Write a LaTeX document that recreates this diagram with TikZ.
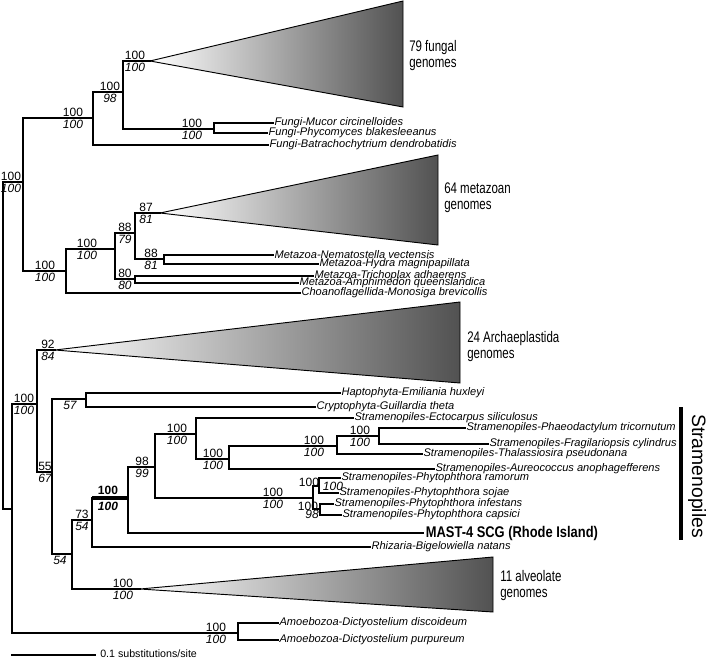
\documentclass[tikz,border=0pt]{standalone}
\usepackage{graphicx}
\usepackage{fontspec}
\setmainfont{Liberation Sans}
\newfontfamily\condf[FakeStretch=0.75]{Liberation Sans}
\newcommand\bsv[5]{%
  \node[suptop] (#1t) at (#2,#3) {#4};
  \node[supbot] (#1b) at (#2,#3) {\itshape #5};}
\begin{document}
\begin{tikzpicture}[x=0.75pt,y=-0.75pt,
  br/.style={line width=0.8pt, line cap=rect},
  thickbr/.style={line width=3.3pt},
  tip/.style={anchor=west, inner xsep=1pt, inner ysep=0pt, font=\fontsize{8.3pt}{9.6pt}\selectfont\itshape},
  suptop/.style={anchor=south, inner sep=0pt, yshift=1.1pt, font=\fontsize{9pt}{10pt}\selectfont},
  supbot/.style={anchor=north, inner sep=0pt, yshift=-1.4pt, font=\fontsize{9pt}{10pt}\selectfont},
  supc/.style={inner sep=0pt, font=\fontsize{9pt}{10pt}\selectfont},
  clade/.style={anchor=west, align=left, inner sep=0pt, font=\condf\fontsize{11.5pt}{12pt}\selectfont},
  tri/.style={left color=white, right color=black!68, draw=black, line width=0.7pt, line join=miter}
]
\useasboundingbox (0,0) rectangle (706,659);

% internal nodes
\coordinate (r) at (3,182);
\coordinate (opi) at (23,182);
\coordinate (fungi) at (93,118);
\coordinate (f1) at (123,92);
\coordinate (fcl) at (150,61);
\coordinate (muc) at (214,129);
\coordinate (metaz) at (66,271);
\coordinate (hol) at (115,249);
\coordinate (m1) at (135,233);
\coordinate (mcl) at (160,213);
\coordinate (m3) at (164,259);
\coordinate (m2) at (135,279);
\coordinate (n12) at (12,509);
\coordinate (amoe) at (238,633);
\coordinate (n37) at (37,404);
\coordinate (arch) at (55,350);
\coordinate (n52) at (52,472);
\coordinate (hc) at (86,399);
\coordinate (n72) at (72,554);
\coordinate (n92) at (92,520);
\coordinate (alv) at (140,589);
\coordinate (n128) at (128,498);
\coordinate (n155) at (155,467);
\coordinate (n196) at (196,434);
\coordinate (n229) at (229,459);
\coordinate (n337) at (337,446);
\coordinate (n379) at (379,436);
\coordinate (phy) at (313,498);
\coordinate (pa) at (319,486);
\coordinate (pb) at (320,509);

% triangles (collapsed clades)
\shadedraw[tri] (fcl) -- (403,1) -- (403,107) -- cycle;
\shadedraw[tri] (mcl) -- (438,155) -- (438,245) -- cycle;
\shadedraw[tri] (arch) -- (460,302) -- (460,383) -- cycle;
\shadedraw[tri] (alv) -- (493,557) -- (493,612) -- cycle;

\node[clade] (lfun) at (409,56) {79 fungal\\genomes};
\node[clade] (lmet) at (444,198) {64 metazoan\\genomes};
\node[clade] (larc) at (467,347) {24 Archaeplastida\\genomes};
\node[clade] (lalv) at (500,586) {11 alveolate\\genomes};

% tip labels
\node[tip] (mucor) at (273,123) {Fungi-Mucor circinelloides};
\node[tip] (phyco) at (267,133) {Fungi-Phycomyces blakesleeanus};
\node[tip] (batra) at (268,145) {Fungi-Batrachochytrium dendrobatidis};
\node[tip] (nema) at (273,255) {Metazoa-Nematostella vectensis};
\node[tip] (hydra) at (318,264) {Metazoa-Hydra magnipapillata};
\node[tip] (tricho) at (313,276) {Metazoa-Trichoplax adhaerens};
\node[tip] (amphi) at (298,283) {Metazoa-Amphimedon queenslandica};
\node[tip] (choano) at (300,293) {Choanoflagellida-Monosiga brevicollis};
\node[tip] (hapto) at (340,393) {Haptophyta-Emiliania huxleyi};
\node[tip] (crypto) at (315,407) {Cryptophyta-Guillardia theta};
\node[tip] (ecto) at (353,418) {Stramenopiles-Ectocarpus siliculosus};
\node[tip] (phaeo) at (465,428) {Stramenopiles-Phaeodactylum tricornutum};
\node[tip] (frag) at (488,444) {Stramenopiles-Fragilariopsis cylindrus};
\node[tip] (thal) at (422,454) {Stramenopiles-Thalassiosira pseudonana};
\node[tip] (aureo) at (434,469) {Stramenopiles-Aureococcus anophagefferens};
\node[tip] (ramo) at (340,478) {Stramenopiles-Phytophthora ramorum};
\node[tip] (sojae) at (338,493) {Stramenopiles-Phytophthora sojae};
\node[tip] (infest) at (333,504) {Stramenopiles-Phytophthora infestans};
\node[tip] (caps) at (341,515) {Stramenopiles-Phytophthora capsici};
\node[tip, inner xsep=2pt] (mast) at (423,533) {\resizebox{129pt}{8.4pt}{\upshape\bfseries MAST-4 SCG (Rhode Island)}};
\node[tip] (rhiz) at (370,547) {Rhizaria-Bigelowiella natans};
\node[tip] (disc) at (278,623) {Amoebozoa-Dictyostelium discoideum};
\node[tip] (purp) at (278,640) {Amoebozoa-Dictyostelium purpureum};

% branches
\draw[br] (r) |- (opi);
\draw[br] (r) |- (n12);
\draw[br] (opi) |- (fungi);
\draw[br] (opi) |- (metaz);
\draw[br] (fungi) |- (f1);
\draw[br] (fungi) |- (batra.west);
\draw[br] (f1) |- (fcl);
\draw[br] (f1) |- (muc);
\draw[br] (muc) |- (mucor.west);
\draw[br] (muc) |- (phyco.west);
\draw[br] (metaz) |- (hol);
\draw[br] (metaz) |- (choano.west);
\draw[br] (hol) |- (m1);
\draw[br] (hol) |- (m2);
\draw[br] (m1) |- (mcl);
\draw[br] (m1) |- (m3);
\draw[br] (m3) |- (nema.west);
\draw[br] (m3) |- (hydra.west);
\draw[br] (m2) |- (tricho.west);
\draw[br] (m2) |- (amphi.west);
\draw[br] (n12) |- (n37);
\draw[br] (n12) |- (amoe);
\draw[br] (amoe) |- (disc.west);
\draw[br] (amoe) |- (purp.west);
\draw[br] (n37) |- (arch);
\draw[br] (n37) |- (n52);
\draw[br] (n52) |- (hc);
\draw[br] (n52) |- (n72);
\draw[br] (hc) |- (hapto.west);
\draw[br] (hc) |- (crypto.west);
\draw[br] (n72) |- (n92);
\draw[br] (n72) |- (alv);
\draw[br] (n92) |- (n128);
\draw[thickbr] (n128 -| n92) -- (n128);
\draw[br] (n92) |- (rhiz.west);
\draw[br] (n128) |- (n155);
\draw[br] (n128) |- (mast.west);
\draw[br] (n155) |- (n196);
\draw[br] (n155) |- (phy);
\draw[br] (n196) |- (ecto.west);
\draw[br] (n196) |- (n229);
\draw[br] (n229) |- (n337);
\draw[br] (n229) |- (aureo.west);
\draw[br] (n337) |- (n379);
\draw[br] (n337) |- (thal.west);
\draw[br] (n379) |- (phaeo.west);
\draw[br] (n379) |- (frag.west);
\draw[br] (phy) |- (pa);
\draw[br] (phy) |- (pb);
\draw[br] (pa) |- (ramo.west);
\draw[br] (pa) |- (sojae.west);
\draw[br] (pb) |- (infest.west);
\draw[br] (pb) |- (caps.west);

% support values
\bsv{s1}{11}{182}{100}{100}
\bsv{s2}{73}{118}{100}{100}
\bsv{s3}{110}{92}{100}{98}
\bsv{s4}{135}{61}{100}{100}
\bsv{s5}{192}{129}{100}{100}
\bsv{s6}{45}{271}{100}{100}
\bsv{s7}{87}{249}{100}{100}
\bsv{s8}{125}{233}{88}{79}
\bsv{s9}{146}{213}{87}{81}
\bsv{s10}{151}{259}{88}{81}
\bsv{s11}{125}{279}{80}{80}
\bsv{s12}{48}{350}{92}{84}
\bsv{s13}{24}{404}{100}{100}
\bsv{s14}{45}{472}{55}{67}
\node[supbot] (s15b) at (70,399) {\itshape 57};
\node[supbot] (s16b) at (60,554) {\itshape 54};
\bsv{s17}{82}{520}{73}{54}
\node[suptop, font=\fontsize{9pt}{10pt}\selectfont\bfseries, yshift=1.6pt] (s18t) at (108,498) {100};
\node[supbot, font=\fontsize{9pt}{10pt}\selectfont\bfseries, yshift=-1.6pt] (s18b) at (108,498) {\itshape 100};
\bsv{s19}{142}{467}{98}{99}
\bsv{s20}{177}{434}{100}{100}
\bsv{s21}{213}{459}{100}{100}
\bsv{s22}{314}{446}{100}{100}
\bsv{s23}{360}{436}{100}{100}
\bsv{s24}{273}{498}{100}{100}
\node[supc] (s25t) at (309,482) {100};
\node[supc] (s25b) at (333,486) {\itshape 100};
\node[supc] (s26t) at (308,506) {100};
\node[supc] (s26b) at (312,514) {\itshape 98};
\bsv{s27}{216}{633}{100}{100}
\bsv{s28}{123}{589}{100}{100}

% Stramenopiles bracket
\coordinate (sb1) at (681,407);
\coordinate (sb2) at (681,540);
\draw[line width=2.4pt] (sb1) -- (sb2);
\node[rotate=-90, inner sep=0pt, font=\fontsize{14.5pt}{16pt}\selectfont] (stram) at (697,476) {Stramenopiles};

% scale bar
\coordinate (sc1) at (12,655);
\coordinate (sc2) at (95,655);
\draw[br] (sc1) -- (sc2);
\node[anchor=west, inner sep=0pt, font=\fontsize{8pt}{9pt}\selectfont] (sclab) at (100,654) {0.1 substitutions/site};
\end{tikzpicture}
\end{document}
